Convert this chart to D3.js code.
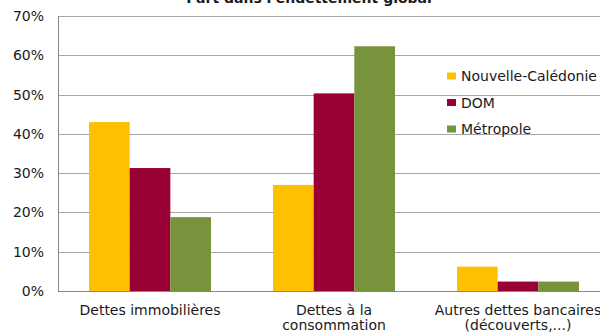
<!DOCTYPE html>
<html>
<head>
<meta charset="utf-8">
<script src="https://cdn.jsdelivr.net/npm/d3@7"></script>
<style>
  body { margin: 0; background: #fff; }
  text { font-family: "DejaVu Sans", Verdana, sans-serif; fill: #1a1a1a; }
</style>
</head>
<body>
<div id="chart"></div>
<script>
const categories = [["Dettes immobilières"], ["Dettes à la", "consommation"], ["Autres dettes bancaires", "(découverts,...)"]];
const seriesNames = ["Nouvelle-Calédonie", "DOM", "Métropole"];
const seriesColors = ["#FFC000", "#990033", "#77933C"];
const nouvelleCaledonie = [43, 27, 6.2];
const dom = [31.3, 50.3, 2.4];
const metropole = [18.8, 62.3, 2.4];
const yTicks = [0, 10, 20, 30, 40, 50, 60, 70];
const title = "Part dans l'endettement global";

const values = [nouvelleCaledonie, dom, metropole];

const W = 600, H = 333;
const margin = { top: 16, left: 58, bottom: 42 };
const plotBottom = H - margin.bottom;

const svg = d3.select('#chart').append('svg')
  .attr('width', W)
  .attr('height', H);

const x0 = d3.scaleBand()
  .domain(d3.range(categories.length))
  .range([margin.left, 610])
  .paddingInner(0.337)
  .paddingOuter(0.1685);

const x1 = d3.scaleBand()
  .domain(d3.range(seriesNames.length))
  .range([0, x0.bandwidth()]);

const y = d3.scaleLinear()
  .domain([0, 70])
  .range([plotBottom, margin.top]);

// gridlines
svg.append('g')
  .selectAll('line')
  .data(yTicks.slice(1))
  .enter().append('line')
  .attr('x1', margin.left)
  .attr('x2', W)
  .attr('y1', d => Math.round(y(d)) + 0.5)
  .attr('y2', d => Math.round(y(d)) + 0.5)
  .style('stroke', '#a6a6a6')
  .style('stroke-width', 1);

// y labels
svg.append('g')
  .selectAll('text')
  .data(yTicks)
  .enter().append('text')
  .attr('x', 44)
  .attr('y', d => y(d))
  .attr('dy', '0.36em')
  .attr('text-anchor', 'end')
  .style('font-size', '14px')
  .text(d => d + '%');

// bars
const groups = svg.append('g')
  .selectAll('g')
  .data(categories)
  .enter().append('g')
  .attr('transform', (d, i) => `translate(${x0(i)},0)`);

groups.selectAll('rect')
  .data((d, i) => values.map((s, j) => ({ s: j, v: s[i] })))
  .enter().append('rect')
  .attr('x', d => x1(d.s))
  .attr('width', x1.bandwidth())
  .attr('y', d => y(d.v))
  .attr('height', d => y(0) - y(d.v))
  .style('fill', d => seriesColors[d.s]);

// axes lines
svg.append('line')
  .attr('x1', margin.left + 0.5).attr('x2', margin.left + 0.5)
  .attr('y1', margin.top).attr('y2', plotBottom)
  .style('stroke', '#868686');
svg.append('line')
  .attr('x1', margin.left).attr('x2', W)
  .attr('y1', Math.round(plotBottom) + 0.5).attr('y2', Math.round(plotBottom) + 0.5)
  .style('stroke', '#868686');

// category labels
const catLabels = svg.append('g')
  .selectAll('text')
  .data(categories)
  .enter().append('text')
  .attr('text-anchor', 'middle')
  .style('font-size', '14px')
  .attr('x', (d, i) => x0(i) + x0.bandwidth() / 2)
  .attr('y', 315);

catLabels.selectAll('tspan')
  .data(d => d)
  .enter().append('tspan')
  .attr('x', function () { return this.parentNode.getAttribute('x'); })
  .attr('dy', (d, i) => i === 0 ? 0 : 15)
  .text(d => d);

// legend
const legend = svg.append('g')
  .attr('transform', 'translate(447,76)');

const entries = legend.selectAll('g')
  .data(seriesNames)
  .enter().append('g')
  .attr('transform', (d, i) => `translate(0,${i * 26.5})`);

entries.append('rect')
  .attr('x', 0)
  .attr('y', -3.5)
  .attr('width', 9)
  .attr('height', 7)
  .style('fill', (d, i) => seriesColors[i]);

entries.append('text')
  .attr('x', 14)
  .attr('y', 0)
  .attr('dy', '0.36em')
  .style('font-size', '14px')
  .text(d => d);

// title, cut off at the top edge as in the source image
svg.append('text')
  .attr('x', 309)
  .attr('y', 3)
  .attr('text-anchor', 'middle')
  .style('font-size', '14px')
  .style('font-weight', 'bold')
  .text(title);
</script>
</body>
</html>
